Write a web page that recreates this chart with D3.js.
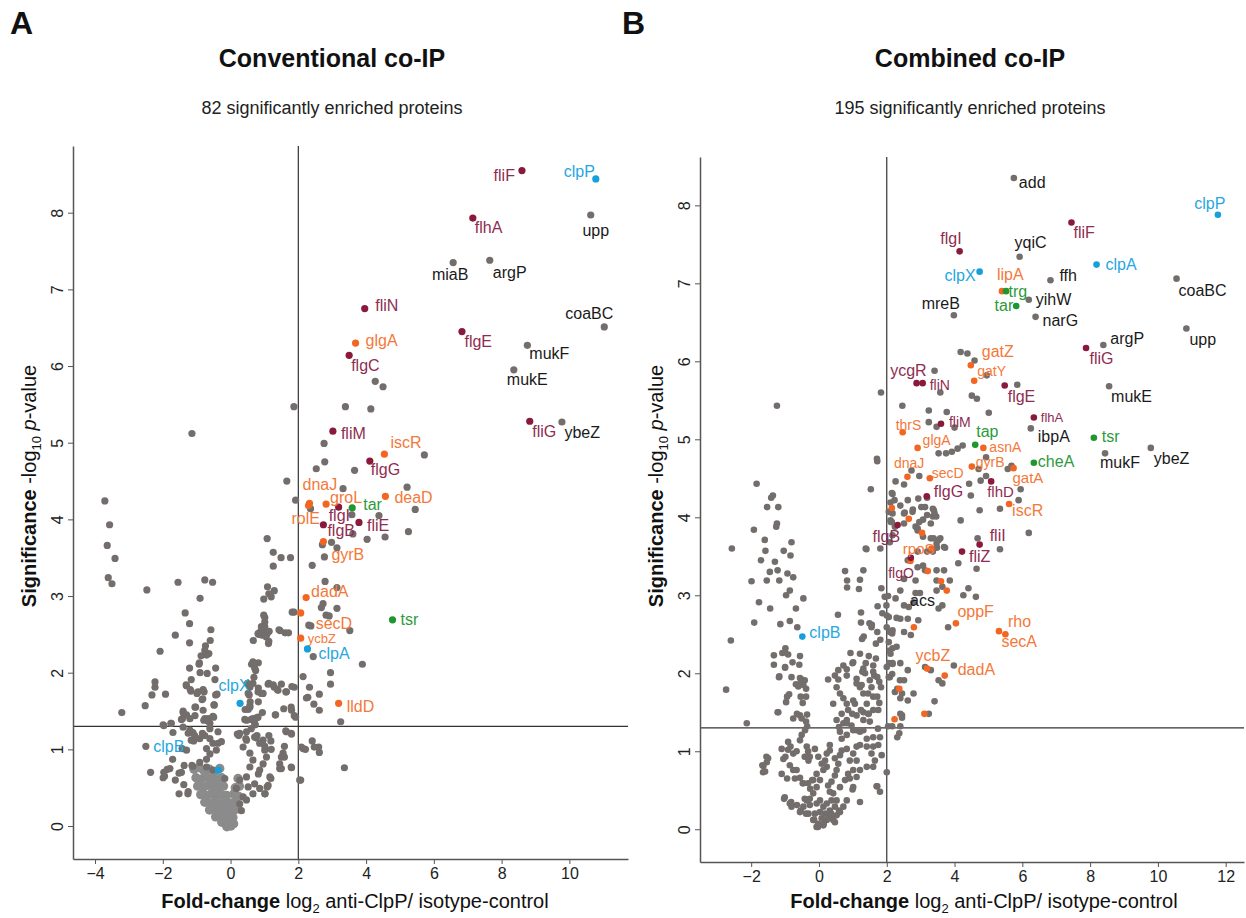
<!DOCTYPE html>
<html>
<head>
<meta charset="utf-8">
<script src="https://cdn.jsdelivr.net/npm/d3@7"></script>
<style>
  body { margin: 0; background: #fff; }
  text { font-family: "Liberation Sans", Arial, sans-serif; }
</style>
</head>
<body>
<div id="chart"></div>
<script>
// thresholds: log2 fold-change of 2 and p = 0.05
const fcCutoff = 2, pCutoff = 1.3;

const xTicksA = [-4, -2, 0, 2, 4, 6, 8, 10];
const xTicksB = [-2, 0, 2, 4, 6, 8, 10, 12];
const yTicks = [0, 1, 2, 3, 4, 5, 6, 7, 8];

// ---- Panel A: conventional co-IP ----
// highlighted proteins: [gene, log2 FC, -log10 p, group]
const hitsA = [
  ["fliF", 8.60, 8.55, "flag"], ["clpP", 10.78, 8.44, "clp"], ["upp", 10.63, 7.97, "other"],
  ["flhA", 7.15, 7.93, "flag"], ["miaB", 6.57, 7.35, "other"], ["argP", 7.65, 7.38, "other"],
  ["fliN", 3.96, 6.75, "flag"], ["coaBC", 11.03, 6.51, "other"], ["flgE", 6.83, 6.45, "flag"],
  ["glgA", 3.69, 6.30, "met"], ["mukF", 8.76, 6.27, "other"], ["flgC", 3.50, 6.14, "flag"],
  ["mukE", 8.36, 5.95, "other"], ["fliG", 8.83, 5.28, "flag"], ["ybeZ", 9.78, 5.27, "other"],
  ["fliM", 3.02, 5.15, "flag"], ["iscR", 4.54, 4.85, "met"], ["flgG", 4.11, 4.76, "flag"],
  ["deaD", 4.57, 4.30, "met"], ["dnaJ", 2.33, 4.21, "met"], ["rolE", 2.30, 4.18, "met"],
  ["groL", 2.82, 4.20, "met"], ["tar", 3.59, 4.15, "chemo"], ["flgI", 3.19, 4.16, "flag"],
  ["fliE", 3.79, 3.96, "flag"], ["flgB", 2.74, 3.93, "flag"], ["gyrB", 2.74, 3.71, "met"],
  ["dadA", 2.23, 2.98, "met"], ["secD", 2.07, 2.78, "met"], ["tsr", 4.78, 2.69, "chemo"],
  ["ycbZ", 2.07, 2.45, "met"], ["clpA", 2.27, 2.31, "clp"], ["clpX", 0.28, 1.60, "clp"],
  ["lldD", 3.19, 1.60, "met"], ["clpB", -0.36, 0.73, "clp"]
];

// all other proteins [log2 FC, -log10 p]
const greyA = [
  [1.87,5.47],[-1.14,5.12],[3.39,5.47],[4.14,5.44],[4.27,5.80],[4.50,5.73],[2.76,4.99],[5.72,4.84],
  [2.78,4.75],[2.53,4.66],[3.66,4.64],[1.66,4.50],[3.32,4.40],[5.21,4.42],[-3.71,4.24],[1.92,4.25],
  [5.45,4.13],[4.38,4.05],[3.58,4.06],[2.36,4.14],[-3.57,3.93],[-3.64,3.66],[-3.41,3.49],[1.08,3.75],
  [1.26,3.57],[1.49,3.50],[1.77,3.50],[2.71,3.67],[2.98,3.70],[3.14,3.63],[3.61,3.81],[4.03,3.74],
  [4.56,3.77],[5.25,3.84],[2.77,3.51],
  [-3.61,3.24],[-3.50,3.16],[-2.47,3.08],[-1.55,3.18],[-0.76,3.21],[-0.53,3.18],[-0.90,2.97],[-1.34,2.78],
  [-1.21,2.64],[-1.63,2.49],[-0.58,2.56],[-1.21,2.39],[-2.08,2.28],[-0.74,2.35],[-0.60,2.42],[-0.76,2.29],
  [-0.71,2.23],[-0.92,2.13],[-1.21,2.06],[-0.90,2.00],[-0.69,1.99],[-0.44,2.06],[-1.16,1.91],[-2.23,1.88],
  [-2.23,1.81],[-2.32,1.71],[-1.92,1.72],[-2.52,1.57],[-3.21,1.48],[-1.31,1.84],[-1.17,1.76],[-0.96,1.75],
  [-0.78,1.75],[-0.84,1.65],[-0.44,1.71],[-0.48,1.58],[-1.05,1.55],[-1.40,1.50],[-1.42,1.40],[-1.05,1.44],
  [-0.76,1.40],[-0.50,1.42],[-0.67,1.37],[-1.76,1.34],[-1.97,1.31],
  [-0.64,2.25],[-0.87,2.22],[-0.93,2.11],[-0.46,1.91],[-1.30,1.83],[-1.19,1.78],[-0.99,1.73],[-0.81,1.78],
  [-0.82,1.66],[-0.40,1.72],
  [1.26,3.39],[1.09,3.12],[1.29,3.07],[1.13,3.03],[0.98,2.96],[1.20,2.99],[1.01,2.72],[1.01,2.66],
  [1.01,2.60],[0.87,2.53],[0.83,2.50],[0.93,2.49],[1.08,2.51],[1.05,2.47],[1.12,2.38],[0.67,2.42],
  [1.46,2.55],[1.61,2.52],[1.71,2.52],[1.82,2.79],[1.87,2.79],[0.62,2.11],[0.82,2.13],[0.71,2.06],
  [0.50,1.86],[0.66,1.86],[0.82,1.80],[0.96,1.73],[1.13,1.86],[1.29,1.81],[1.50,1.85],[1.40,1.77],
  [1.63,1.75],[1.88,1.81],[0.52,1.73],[0.58,1.62],[0.43,1.52],[0.52,1.52],[0.82,1.62],[0.42,1.39],
  [0.61,1.39],[0.76,1.41],[0.73,1.32],[1.32,1.45],[1.57,1.53],[1.80,1.51],[1.88,1.44],[1.92,1.42],
  [0.81,2.51],[0.91,2.53],[1.01,2.56],[1.14,2.54],[1.13,2.41],[0.98,2.75],[0.91,2.60],[1.43,2.56],
  [0.66,2.14],[0.74,2.03],[0.69,1.94],[1.11,1.85],[1.26,1.84],[1.38,1.78],[1.65,1.75],[0.57,1.81],
  [0.55,1.71],[0.81,1.75],[0.91,1.73],[0.57,1.57],[1.33,1.45],[1.79,1.55],[1.81,1.82],
  [2.41,3.40],[2.79,3.19],[3.14,3.11],[2.73,2.90],[2.68,2.85],[3.14,2.84],[2.82,2.75],[2.91,2.74],
  [2.37,2.61],[3.52,2.55],[2.44,2.21],[3.89,2.11],[2.95,2.00],[2.14,1.95],[2.95,1.85],[2.33,1.81],
  [2.62,1.72],[2.24,1.67],[2.46,1.59],[2.62,1.51],[3.25,1.36],[2.31,2.62],[2.28,1.68],
  [2.41,1.11],[2.09,1.03],[2.21,1.00],[2.47,1.03],[2.60,1.03],[2.62,0.96],[3.36,0.76],[2.07,0.60],
  [1.63,1.24],[1.80,1.20],
  [-2.50,1.04],[-1.43,1.01],[-2.36,0.70],[-1.97,0.70],[-1.87,0.74],[-1.95,0.65],[-1.52,0.69],[-1.37,0.79],
  [-1.11,0.78],[-1.71,0.87],[-1.38,0.54],[-1.52,0.42],[-1.26,0.42],[-1.63,0.60],[-1.99,0.63],[-1.79,0.75],
  [-1.25,0.45],[-1.45,0.70],
  [0.20,1.20],[0.45,1.14],[0.76,1.15],[1.01,1.04],[1.19,1.11],[1.59,1.04],[1.59,0.90],[1.50,0.75],
  [1.80,0.76],[1.08,0.51],[1.02,0.42],[1.19,0.62],[0.82,0.68],
  [-1.14,0.79],[-0.91,0.83],[-0.71,0.87],[-0.61,0.94],[-0.71,1.01],[-0.52,1.08],[-0.37,1.08],[-0.61,1.14],
  [-0.83,1.21],[-1.11,1.22],[-1.25,1.21],[-1.40,1.29],[-1.70,1.22],[-1.75,1.34],[-1.99,1.32],[-1.09,1.11],
  [-1.30,0.99],[-0.71,0.77],[-0.52,0.73],[-0.17,0.62],[-1.20,1.25],[-1.06,1.18],[-1.16,1.12],[-0.91,1.14],
  [-0.76,1.18],[-0.61,1.27],[-0.37,1.23],[-0.27,1.10],[-0.42,0.99],[-1.40,1.48],[-1.45,1.39],[-1.20,1.40],
  [-1.30,1.45],[-1.03,1.55],[-0.81,1.51],[-0.79,1.38],[-0.66,1.40],[-0.52,1.43],[-0.61,1.34],[-0.49,1.58],
  [0.17,0.49],[0.27,0.60],[0.47,0.64],[0.57,0.77],[0.66,0.86],[0.57,0.95],[0.37,1.03],[0.47,1.12],
  [0.27,1.21],[0.71,1.16],[0.86,1.08],[1.01,0.99],[1.20,1.00],[1.06,0.90],[0.96,0.81],[0.86,0.73],
  [0.71,0.55],[0.86,0.49],[1.01,0.42],[0.66,0.42],[0.37,0.38],[1.16,0.64],[1.11,0.53],[0.52,0.51],
  [0.27,0.29],[0.47,0.34],[0.32,0.20],[1.45,0.81],[1.55,0.95],[1.79,0.77],[1.45,0.75],[0.57,1.55],
  [0.66,1.40],[0.81,1.42],[0.47,1.38],[0.71,1.34],[0.94,1.48],[0.24,1.18],[0.47,1.23],[0.61,1.27],
  [0.78,1.18],[0.96,1.12],[1.13,1.18],[1.65,1.23],[1.79,1.21],[1.50,0.90],[2.04,0.60],[2.14,1.01]
];

// dense, lighter core of non-enriched proteins near the origin
const coreA = [
  [-1.08,0.74],[-0.92,0.76],[-0.78,0.72],[-0.62,0.74],[-0.46,0.71],[-0.32,0.75],
  [-1.02,0.63],[-0.86,0.61],[-0.71,0.64],[-0.55,0.62],[-0.40,0.60],[-0.26,0.63],[0.22,0.62],
  [-0.97,0.52],[-0.81,0.50],[-0.66,0.53],[-0.50,0.51],[-0.36,0.49],[-0.21,0.52],[0.14,0.50],[0.26,0.52],
  [-0.88,0.41],[-0.72,0.40],[-0.57,0.42],[-0.42,0.39],[-0.27,0.41],[-0.12,0.40],[0.10,0.42],[0.23,0.39],
  [-0.76,0.31],[-0.61,0.30],[-0.46,0.32],[-0.31,0.29],[-0.16,0.31],[-0.02,0.30],[0.12,0.31],[0.21,0.28],
  [-0.62,0.21],[-0.47,0.22],[-0.33,0.20],[-0.19,0.22],[-0.05,0.21],[0.08,0.20],[0.17,0.22],
  [-0.44,0.12],[-0.31,0.13],[-0.18,0.11],[-0.05,0.12],[0.07,0.11],
  [-0.26,0.05],[-0.13,0.04],[0.00,0.05],[0.09,0.03],[-0.11,-0.01],[0.01,0.00]
];

// label placement: [dx, dy, anchor] from the dot, in pixels
const labelAtA = {
  fliF: [-7, 10.5, "end"], clpP: [-1, -2, "end"], upp: [5, 20.5, "middle"], flhA: [2, 15, "start"],
  miaB: [-3, 17, "middle"], argP: [3, 17.5, "start"], fliN: [10.5, 2, "start"], coaBC: [9, -7.5, "end"],
  flgE: [2.5, 15.5, "start"], glgA: [10, 3, "start"], mukF: [2, 14, "start"], flgC: [2, 16, "start"],
  mukE: [-7, 15, "start"], fliG: [2.5, 15.5, "start"], ybeZ: [2.5, 16, "start"], fliM: [8, 8, "start"],
  iscR: [6, -6, "start"], flgG: [1, 14, "start"], deaD: [9, 7, "start"], dnaJ: [-7, -13.5, "start"],
  rolE: [11.5, 18, "end"], groL: [4, -1, "start"], tar: [11, 2, "start"], flgI: [-10, 14, "start"],
  fliE: [8, 8.5, "start"], flgB: [4, 11.5, "start"], gyrB: [8, 18, "start"], dadA: [5, -1, "start"],
  secD: [15, 16, "start"], tsr: [8, 5.5, "start"], ycbZ: [7, 5, "start"], clpA: [11, 10.5, "start"],
  clpX: [-6, -12, "middle"], lldD: [8, 8.5, "start"], clpB: [-34, -18.5, "end"]
};
const labelSizeA = { ycbZ: 13 };

// ---- Panel B: combined co-IP ----
const hitsB = [
  ["add", 5.75, 8.35, "other"], ["clpP", 11.77, 7.88, "clp"], ["fliF", 7.45, 7.78, "flag"],
  ["flgI", 4.15, 7.41, "flag"], ["yqiC", 5.92, 7.34, "other"], ["clpA", 8.19, 7.24, "clp"],
  ["clpX", 4.74, 7.15, "clp"], ["ffh", 6.83, 7.04, "other"], ["coaBC", 10.55, 7.06, "other"],
  ["lipA", 5.40, 6.90, "met"], ["trg", 5.52, 6.90, "chemo"], ["yihW", 6.19, 6.79, "other"],
  ["tar", 5.82, 6.71, "chemo"], ["mreB", 3.98, 6.59, "other"], ["narG", 6.39, 6.57, "other"],
  ["upp", 10.84, 6.42, "other"], ["argP", 8.39, 6.21, "other"], ["fliG", 7.88, 6.17, "flag"],
  ["gatZ", 4.48, 5.95, "met"], ["gatY", 4.58, 5.75, "met"], ["ycgR", 2.88, 5.72, "flag"],
  ["fliN", 3.06, 5.72, "flag"], ["flgE", 5.48, 5.69, "flag"], ["mukE", 8.56, 5.68, "other"],
  ["flhA", 6.34, 5.28, "flag"], ["fliM", 3.60, 5.20, "flag"], ["ibpA", 6.25, 5.14, "other"],
  ["thrS", 2.47, 5.09, "met"], ["tsr", 8.11, 5.02, "chemo"], ["tap", 4.61, 4.93, "chemo"],
  ["asnA", 4.85, 4.89, "met"], ["glgA", 2.91, 4.89, "met"], ["ybeZ", 9.79, 4.89, "other"],
  ["mukF", 8.44, 4.82, "other"], ["cheA", 6.34, 4.70, "chemo"], ["gyrB", 4.51, 4.65, "met"],
  ["gatA", 5.74, 4.63, "met"], ["dnaJ", 2.61, 4.52, "met"], ["secD", 3.27, 4.50, "met"],
  ["flhD", 5.08, 4.46, "flag"], ["flgG", 3.18, 4.27, "flag"], ["iscR", 5.61, 4.17, "met"],
  ["flgB", 2.32, 3.90, "flag"], ["fliI", 4.74, 3.65, "flag"], ["rpoS", 3.32, 3.60, "met"],
  ["fliZ", 4.22, 3.56, "flag"], ["flgO", 2.71, 3.48, "flag"], ["acs", 2.51, 2.87, "other"],
  ["oppF", 4.04, 2.64, "met"], ["rho", 5.31, 2.54, "met"], ["secA", 5.50, 2.50, "met"],
  ["clpB", -0.49, 2.47, "clp"], ["ycbZ", 3.19, 2.06, "met"], ["dadA", 3.71, 1.97, "met"]
];

// unlabelled metabolic hits (orange) in panel B
const metB = [
  [2.15,4.12],[2.65,3.98],[3.04,3.80],[3.21,3.31],[3.60,3.18],[3.77,3.06],
  [2.80,2.59],[2.37,1.80],[3.11,1.48],[2.23,1.41],[2.70,3.44]
];

const greyB = [
  [1.83,5.60],[-1.24,5.43],[2.46,5.43],[3.41,5.88],[3.58,5.60],[4.18,6.12],[4.38,6.10],[4.59,6.01],
  [4.95,5.82],[5.85,5.70],[4.51,5.56],[4.66,5.52],[3.24,5.37],[3.77,5.35],[5.01,5.34],[3.24,5.22],
  [3.47,5.16],[4.00,5.15],[1.71,4.75],[1.72,4.72],[3.53,4.82],[3.75,4.82],[3.92,4.84],[4.09,4.88],
  [4.24,4.92],[4.71,4.62],[4.93,4.77],[5.57,4.62],[5.68,4.66],[2.73,4.60],[2.96,4.53],[1.53,4.36],
  [-1.84,4.43],[2.26,4.46],[2.51,4.42],[2.15,4.31],[2.93,4.24],[3.19,4.25],[4.43,4.43],[4.77,4.47],
  [4.93,4.53],[4.48,4.28],[5.95,4.36],[5.89,4.22],[5.34,4.11],[4.74,4.09],[4.18,3.96],[6.19,3.80],
  [5.34,3.59],[4.68,3.73],[3.38,3.73],[3.58,3.73],[3.72,3.61],[3.48,3.61],[2.91,3.86],[3.07,3.97],
  [3.30,3.92],[3.39,4.09],[3.36,4.01],[3.46,4.01],[3.02,4.13],[2.77,4.10],[2.53,4.06],[2.62,4.22],
  [2.11,4.19],[2.11,3.96],[2.06,4.07],[1.38,3.60],[1.81,3.60],
  [-2.57,3.60],[-1.92,3.84],[-1.60,3.71],[-1.53,4.13],[-1.20,4.13],[-1.41,4.25],[-1.36,4.28],[-1.26,3.88],
  [-1.24,3.92],[-0.81,3.68],[-1.04,3.57],[-0.84,3.51],[-1.58,3.57],[-1.71,3.45],[-1.30,3.43],[-1.45,3.30],
  [-1.99,3.18],[-1.54,3.19],[-1.17,3.19],[-0.93,3.28],[-0.76,3.23],[-0.86,3.06],[-0.97,3.00],[-0.46,2.96],
  [-1.77,2.91],[-1.44,2.83],[-0.68,2.83],[-1.91,2.65],[-1.14,2.63],[-0.86,2.67],[-0.64,2.59],[-2.60,2.42],
  [-1.00,2.27],[-1.33,2.23],[-0.91,2.24],[-0.56,2.22],[-0.78,2.14],[-0.58,2.11],[-1.00,2.07],[-0.81,1.95],
  [-0.56,1.94],[-1.22,3.32],[-0.99,2.32],[-1.08,2.26],[-1.33,2.11],[-1.18,1.95],[-0.68,1.86],[-0.42,1.91],
  [-0.54,1.70],[-0.48,1.62],[-0.65,1.48],[-1.22,1.50],[-0.84,1.06],[-0.99,0.93],[-0.76,0.97],[-0.42,0.93],
  [-0.31,0.88],[-1.55,0.93],[-1.67,0.82],[-1.65,0.73],[-1.10,0.71],[-0.94,0.65],[-0.76,0.76],[-1.01,0.41],
  [-0.82,0.35],[-0.65,0.31],[-0.54,0.24],[-0.31,0.20],[-0.14,0.12],[-0.03,0.03],[-0.42,0.39],[-0.26,0.52],
  [-0.48,0.59],[-0.20,0.63],[0.59,0.24],[0.36,0.20],[0.14,0.07],[0.31,0.16],
  [0.77,3.31],[1.31,3.32],[0.83,3.19],[1.21,3.20],[0.83,3.10],[1.18,3.08],[1.40,3.59],[1.84,3.09],
  [2.04,2.99],[1.73,2.86],[1.99,2.87],[1.87,2.77],[0.56,2.75],[1.24,2.78],[1.24,2.65],[1.56,2.62],
  [1.32,2.47],[2.00,2.59],[1.68,2.38],[1.81,2.43],[2.09,2.53],[2.09,2.29],[0.93,2.26],[1.21,2.25],
  [1.47,2.22],[0.99,2.13],[1.38,2.13],[1.68,2.19],[2.07,2.13],[0.82,2.05],[1.28,2.02],[1.60,2.02],
  [0.47,1.97],[0.27,1.92],[0.57,1.92],[1.11,1.93],[2.16,1.99],[2.17,4.30],[2.12,3.94],[2.00,2.74],
  [2.29,2.71],[2.16,2.51],[2.29,2.34],
  [-2.74,1.79],[-2.13,1.36],[-1.17,1.96],[-1.00,2.08],[-0.51,1.92],[-0.54,1.88],[-0.46,1.85],[-0.38,1.80],
  [-0.61,1.83],[-0.88,1.73],[-0.94,1.70],[-0.97,1.63],[-0.38,1.70],[-1.20,1.50],[-0.76,1.42],[-0.56,1.46],
  [-0.51,1.42],[-0.35,1.47],[-0.38,1.38],[-0.35,1.32],[-0.41,1.27],[-0.56,1.14],[-0.51,1.21],[-0.91,1.12],
  [-1.10,1.03],[-0.91,1.02],[-0.66,1.00],[-0.36,1.06],[-0.32,1.00],[-0.38,0.93],[-0.27,0.93],[-0.12,1.03],
  [-0.02,0.93],[-1.50,0.91],[-1.54,0.86],[-1.64,0.81],[-1.59,0.74],[-1.05,0.90],[-0.86,0.82],[-0.66,0.76],
  [-0.71,0.65],[-0.56,0.66],[-0.46,0.59],[-0.32,0.59],[-1.03,0.39],[-0.86,0.33],[-0.81,0.29],[-0.56,0.22],
  [-0.46,0.29],[-0.36,0.37],[-0.27,0.31],[-0.38,0.20],
  [-0.07,0.03],[-0.02,0.07],[-0.17,0.12],[0.08,0.14],[-0.12,0.20],[0.03,0.22],[0.13,0.29],[0.18,0.20],
  [0.23,0.33],[0.32,0.24],[0.37,0.37],[0.42,0.46],[0.32,0.48],[0.27,0.56],[0.37,0.61],[0.47,0.69],
  [0.52,0.76],[0.57,0.84],[0.62,0.95],[0.67,1.01],[0.47,0.91],[0.82,1.03],[0.91,0.88],[1.01,0.97],
  [1.11,0.88],[1.01,0.76],[0.86,0.71],[0.77,0.63],[0.62,0.54],[0.52,0.37],[0.47,0.29],[0.37,0.16],
  [0.23,0.12],[0.13,0.05],
  [0.32,1.08],[0.67,1.16],[0.82,1.21],[1.01,1.27],[1.11,1.27],[1.21,1.25],[1.31,1.27],[1.41,1.16],
  [1.60,1.18],[1.80,1.18],[1.11,1.06],[1.21,1.08],[1.41,1.06],[1.60,1.06],[1.75,1.08],[1.55,0.97],
  [1.85,0.95],[1.65,0.88],[1.41,0.80],[1.60,0.80],[1.21,0.76],[1.11,0.67],[0.91,0.65],[1.01,0.54],
  [1.70,0.55],[1.80,0.48],[0.99,0.51],[1.21,0.35],[0.82,0.37],[0.72,0.29],[0.62,0.22],[0.52,0.18],
  [0.42,0.12],[0.47,0.09],
  [-0.07,0.33],[-0.17,0.46],[-0.27,0.39],[0.03,0.37],[-0.07,0.54],[-0.17,0.63],[0.03,0.63],[-0.07,0.71],
  [0.13,0.76],[0.08,0.84],[0.23,0.80],[0.18,0.88],[0.23,0.97],[0.32,1.01],
  [0.52,1.82],[0.62,1.74],[0.72,1.68],[0.82,1.61],[0.86,1.53],[1.01,1.65],[1.06,1.61],[1.21,1.82],
  [1.26,1.85],[1.31,1.74],[1.45,1.74],[1.60,1.70],[1.41,1.61],[1.60,1.53],[1.75,1.53],[1.11,1.46],
  [1.31,1.40],[1.50,1.38],[1.45,1.48],[1.31,1.50],[0.82,1.40],[0.72,1.36],[0.62,1.25],[0.96,1.33],
  [0.82,1.97],[0.72,2.10],[1.01,2.14],[1.31,2.06],[1.36,2.00],[1.50,1.91],[1.55,1.82],[1.11,1.87],
  [0.42,1.61],[0.67,1.48],[0.52,1.40],[0.57,2.04],
  [2.00,2.08],[2.17,2.12],[2.09,1.95],[2.24,1.76],[2.39,1.91],[2.04,1.32],[2.31,1.18],[2.00,0.73],
  [2.16,1.32],[2.40,1.32],[2.37,1.23],[1.72,0.55],
  [2.09,3.68],[2.17,3.77],[2.24,3.88],[2.15,3.94],[2.17,4.05],[2.23,4.22],[2.40,4.15],[2.51,4.05],
  [2.76,4.07],[2.51,3.92],[2.85,3.88],[2.96,3.94],[3.13,4.13],[3.19,4.03],[3.36,4.11],[3.41,4.05],
  [2.91,3.83],[3.07,3.75],[3.30,3.73],[3.47,3.66],[3.53,3.71],[3.69,3.62],[3.36,3.56],[3.19,3.56],
  [2.91,3.56],[2.62,3.45],[2.91,3.36],[3.07,3.38],[3.13,3.32],[3.47,3.32],[3.69,3.32],[3.47,3.19],
  [3.86,3.19],[3.47,3.06],[3.64,3.11],[2.85,3.19],[2.51,3.21],[2.40,3.06],[2.26,2.96],[2.85,3.03],
  [2.79,2.91],[2.65,2.85],[2.93,2.68],[2.62,2.70],[2.40,2.70],[2.17,2.55],[2.51,2.53],[2.71,2.49],
  [2.06,2.40],[2.17,2.32],[2.11,2.25],[2.17,2.13],[2.40,2.13],[2.62,2.04],[2.51,1.91],[2.45,1.74],
  [2.79,1.74],[3.13,2.08],[3.30,2.04],[3.53,1.91],[3.64,1.87],[3.41,1.64],[3.24,1.48],[2.45,1.46],
  [3.98,2.10],[3.64,2.87],[3.53,2.83],[3.81,2.59],[4.11,3.41],[4.41,3.09],[4.26,3.00],[4.63,2.98],
  [4.65,3.34],[2.98,3.03],[1.94,2.98],[2.06,2.72],[1.55,2.59],[1.49,2.64],[1.72,2.53],[1.27,2.44],
  [2.06,1.95],[2.31,1.80],[2.40,1.68],[2.62,1.65],[2.40,1.48],[2.45,1.43],
  [1.60,2.10],[1.63,1.97],[1.72,1.95],[1.78,1.89],[1.83,1.82],[1.72,1.70],[1.78,1.62],[0.59,1.31],
  [0.82,1.36],[0.98,1.48],[1.24,1.53],[1.47,1.48],[1.74,1.29]
];

const labelAtB = {
  add: [5, 10, "start"], clpP: [7.5, -6, "end"], fliF: [2, 15, "start"], flgI: [2, -7, "end"],
  yqiC: [-5, -9, "start"], clpA: [9, 5.5, "start"], clpX: [-4, 9.5, "end"], ffh: [9, 0.5, "start"],
  coaBC: [2, 17, "start"], lipA: [-5, -11, "start"], trg: [2.5, 6, "start"], yihW: [7, 5.5, "start"],
  tar: [-3, 5, "end"], mreB: [6, -6.5, "end"], narG: [7, 9, "start"], upp: [3, 16.5, "start"],
  argP: [7, -0.5, "start"], fliG: [3.5, 16, "start"], gatZ: [11, -8.5, "start"], gatY: [3, -5, "start"],
  ycgR: [10, -7, "end"], fliN: [7, 7, "start"], flgE: [3, 16, "start"], mukE: [2, 16, "start"],
  flhA: [7, 5, "start"], fliM: [8, 3, "start"], ibpA: [7, 14, "start"], thrS: [-7, -2, "start"],
  tsr: [8, 4, "start"], tap: [1, -7.5, "start"], asnA: [6, 4.5, "start"], glgA: [5, -3, "start"],
  ybeZ: [3, 16, "start"], mukF: [-5, 15, "start"], cheA: [4, 4, "start"], gyrB: [4, 0, "start"],
  gatA: [-1, 14.5, "start"], dnaJ: [-13.5, -9, "start"], secD: [2, -0.5, "start"], flhD: [-4, 16, "start"],
  flgG: [7, 1, "start"], iscR: [3, 11.5, "start"], flgB: [2.5, 16.5, "end"], fliI: [10, -3.5, "start"],
  rpoS: [3, 5.5, "end"], fliZ: [7, 10.5, "start"], flgO: [3, 20, "end"], acs: [6, 0.5, "start"],
  oppF: [1.5, -6, "start"], rho: [9, -4.5, "start"], secA: [-4, 13, "start"], clpB: [7, 1.5, "start"],
  ycbZ: [-11.5, -7.5, "start"], dadA: [13, -0.5, "start"]
};
const labelSizeB = {
  thrS: 14, glgA: 14, dnaJ: 14, secD: 14, gatY: 14, flhA: 13, asnA: 14, gyrB: 14,
  fliN: 14, fliM: 14, flgO: 14, gatA: 15, flhD: 15, rpoS: 15
};

// group colours: dot fill and label text
const dotColor = { flag: "#8a1a3c", met: "#f26522", clp: "#169fdb", chemo: "#1f962e", other: "#736e6b" };
const textColor = { flag: "#8e2d52", met: "#f3793a", clp: "#27a7df", chemo: "#2d9a3b", other: "#1a1a1a" };
const greyColor = "#736e6b", coreColor = "#8b8b8b";

const svg = d3.select("#chart").append("svg")
    .attr("width", 1246)
    .attr("height", 918)
    .attr("viewBox", [0, 0, 1246, 918]);

function Volcano(svg, {
  grey, core = [], extra = [], hits, labelAt, labelSize = {},
  xDomain, yDomain, left, right, top, bottom, xTicks,
  r = 3.5, title, subtitle, titleX, letter, letterX, xTitleX
}) {
  const x = d3.scaleLinear(xDomain, [left, right]);
  const y = d3.scaleLinear(yDomain, [bottom, top]);
  const g = svg.append("g");

  // cut-off lines
  g.append("line")
      .attr("x1", x(fcCutoff)).attr("x2", x(fcCutoff))
      .attr("y1", top).attr("y2", bottom)
      .attr("stroke", "#333").attr("stroke-width", 1.2);
  g.append("line")
      .attr("x1", left).attr("x2", right)
      .attr("y1", y(pCutoff)).attr("y2", y(pCutoff))
      .attr("stroke", "#333").attr("stroke-width", 1.2);

  g.append("g").attr("fill", coreColor)
    .selectAll("circle").data(core).join("circle")
      .attr("cx", d => x(d[0])).attr("cy", d => y(d[1])).attr("r", r + 1.1);

  g.append("g").attr("fill", greyColor)
    .selectAll("circle").data(grey).join("circle")
      .attr("cx", d => x(d[0])).attr("cy", d => y(d[1])).attr("r", r);

  g.append("g").attr("fill", dotColor.met)
    .selectAll("circle").data(extra).join("circle")
      .attr("cx", d => x(d[0])).attr("cy", d => y(d[1])).attr("r", r);

  g.append("g")
    .selectAll("circle").data(hits).join("circle")
      .attr("cx", d => x(d[1])).attr("cy", d => y(d[2])).attr("r", r)
      .attr("fill", d => dotColor[d[3]]);

  g.append("g")
    .selectAll("text").data(hits).join("text")
      .attr("x", d => x(d[1]) + labelAt[d[0]][0])
      .attr("y", d => y(d[2]) + labelAt[d[0]][1])
      .attr("text-anchor", d => labelAt[d[0]][2])
      .attr("font-size", d => labelSize[d[0]] || 16)
      .attr("fill", d => textColor[d[3]])
      .text(d => d[0]);

  // axes
  g.append("g")
      .attr("transform", `translate(0,${bottom})`)
      .call(d3.axisBottom(x).tickValues(xTicks).tickSize(5).tickSizeOuter(0).tickPadding(4))
      .call(a => a.select(".domain").attr("stroke", "#555").attr("stroke-width", 1.5))
      .call(a => a.selectAll(".tick line").attr("stroke", "#555"))
      .call(a => a.selectAll(".tick text").attr("font-size", 16).attr("fill", "#222")
          .attr("font-family", '"Liberation Sans", Arial, sans-serif'));

  g.append("g")
      .attr("transform", `translate(${left},0)`)
      .call(d3.axisLeft(y).tickValues(yTicks).tickSize(5).tickSizeOuter(0))
      .call(a => a.select(".domain").attr("stroke", "#555").attr("stroke-width", 1.5))
      .call(a => a.selectAll(".tick line").attr("stroke", "#555"))
      .call(a => a.selectAll(".tick text")
          .attr("x", 0).attr("dy", null)
          .attr("text-anchor", "middle")
          .attr("transform", "translate(-10,0) rotate(-90)")
          .attr("font-size", 16).attr("fill", "#222")
          .attr("font-family", '"Liberation Sans", Arial, sans-serif'));

  // axis titles
  const xt = g.append("text")
      .attr("x", xTitleX).attr("y", 908)
      .attr("text-anchor", "middle").attr("font-size", 20).attr("fill", "#111");
  xt.append("tspan").attr("font-weight", "bold").text("Fold-change");
  xt.append("tspan").text(" log");
  xt.append("tspan").attr("font-size", 13).attr("dy", 5).text("2");
  xt.append("tspan").attr("dy", -5).text(" anti-ClpP/ isotype-control");

  const yt = g.append("text")
      .attr("transform", `translate(${left - 37},486) rotate(-90)`)
      .attr("text-anchor", "middle").attr("font-size", 20).attr("fill", "#111");
  yt.append("tspan").attr("font-weight", "bold").text("Significance");
  yt.append("tspan").text(" -log");
  yt.append("tspan").attr("font-size", 13).attr("dy", 5).text("10");
  yt.append("tspan").attr("dy", -5).text(" ");
  yt.append("tspan").attr("font-style", "italic").text("p");
  yt.append("tspan").text("-value");

  // titles
  svg.append("text")
      .attr("x", letterX).attr("y", 34)
      .attr("font-size", 32).attr("font-weight", "bold").attr("fill", "#111")
      .text(letter);
  svg.append("text")
      .attr("x", titleX).attr("y", 67)
      .attr("text-anchor", "middle")
      .attr("font-size", 25).attr("font-weight", "bold").attr("fill", "#111")
      .text(title);
  svg.append("text")
      .attr("x", titleX).attr("y", 114)
      .attr("text-anchor", "middle")
      .attr("font-size", 18).attr("fill", "#222")
      .text(subtitle);
}

Volcano(svg, {
  grey: greyA, core: coreA, hits: hitsA, labelAt: labelAtA, labelSize: labelSizeA,
  xDomain: [-4.65, 11.73], yDomain: [-0.43, 8.87],
  left: 73, right: 628, top: 146, bottom: 859, xTicks: xTicksA, r: 3.6,
  title: "Conventional co-IP", subtitle: "82 significantly enriched proteins",
  titleX: 332, letter: "A", letterX: 10, xTitleX: 355
});

Volcano(svg, {
  grey: greyB, extra: metB, hits: hitsB, labelAt: labelAtB, labelSize: labelSizeB,
  xDomain: [-3.51, 12.54], yDomain: [-0.42, 8.62],
  left: 700, right: 1244, top: 157, bottom: 862, xTicks: xTicksB, r: 3.3,
  title: "Combined co-IP", subtitle: "195 significantly enriched proteins",
  titleX: 970, letter: "B", letterX: 622, xTitleX: 984
});
</script>
</body>
</html>
